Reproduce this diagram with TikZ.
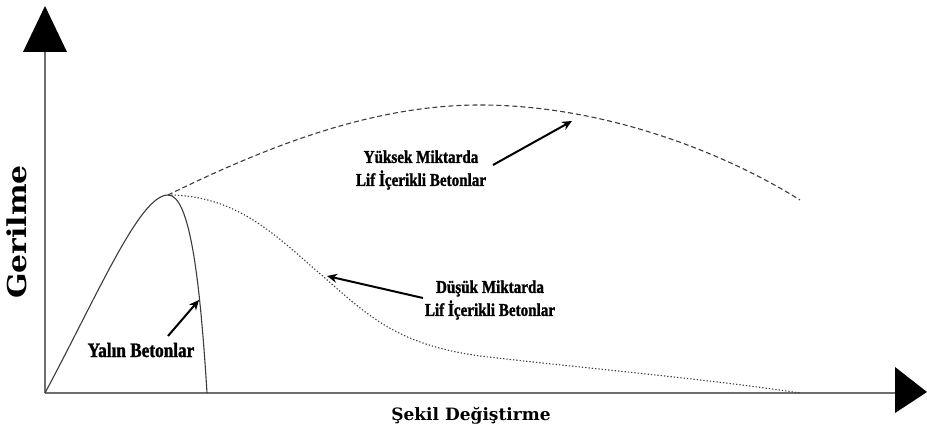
\documentclass[tikz,border=0pt]{standalone}
\usepackage{fontspec}
\setmainfont{Liberation Serif}
\newfontfamily\lblfont[FakeStretch=0.84,FakeBold=1.4]{Liberation Serif}
\newfontfamily\axfont{DejaVu Serif}
\newfontfamily\axwidefont[FakeStretch=1.15]{DejaVu Serif}
\usetikzlibrary{arrows.meta}
\definecolor{curvecol}{HTML}{3C3C3C}
\definecolor{axiscol}{HTML}{6E6E6E}
\begin{document}
\begin{tikzpicture}[x=1pt,y=-1pt,
  axisline/.style={draw=axiscol,line width=1.1pt},
  headtri/.style={fill=black,draw=none},
  plainc/.style={draw=curvecol,line width=1.1pt},
  highc/.style={draw=curvecol,line width=1.1pt,dash pattern=on 5pt off 3pt},
  lowc/.style={draw=curvecol,line width=1.1pt,dash pattern=on 1.3pt off 2pt},
  pointer/.style={draw=black,line width=2pt,-{Stealth[length=10pt,width=9pt]}},
  lbl/.style={font=\lblfont\bfseries\fontsize{18}{23}\selectfont,align=center,inner sep=0pt},
  biglbl/.style={font=\lblfont\bfseries\fontsize{20.5}{24}\selectfont,inner sep=0pt},
  axlbl/.style={font=\axfont\bfseries\fontsize{17}{20}\selectfont,inner sep=0pt},
  yaxlbl/.style={font=\axwidefont\bfseries\fontsize{26}{30}\selectfont,inner sep=0pt}]
\useasboundingbox (0,0) rectangle (927,435);
% axes
\coordinate (O) at (45,393);
\coordinate (Ybase) at (45,52);
\coordinate (Xbase) at (895,393);
\draw[axisline] (O) -- (Ybase);
\draw[axisline] (O) -- (Xbase);
\path[headtri] (23,52) -- (45,6) -- (67,52) -- cycle;
\path[headtri] (895,367) -- (927,392) -- (895,413) -- cycle;
% curves
\coordinate (P) at (168,195);
\draw[plainc] (O) .. controls (100,290) and (140,195) .. (P)
  .. controls (190,195) and (200,280) .. (207,393);
\draw[highc] (P) .. controls (280,140) and (380,105) .. (480,105)
  .. controls (600,105) and (720,150) .. (800,200);
\draw[lowc] (P) .. controls (240,195) and (280,240) .. (325,278)
  .. controls (370,318) and (400,345) .. (480,356)
  .. controls (600,370) and (700,378) .. (800,393);
% labels
\node[lbl] (high) at (421,170) {Yüksek Miktarda\\Lif İçerikli Betonlar};
\node[lbl] (low) at (490,300) {Düşük Miktarda\\Lif İçerikli Betonlar};
\node[biglbl] (plain) at (141,350) {Yalın Betonlar};
\node[yaxlbl,rotate=90] (ylab) at (17,232) {Gerilme};
\node[axlbl] (xlab) at (471,416) {Şekil Değiştirme};
% pointers
\coordinate (hs) at (493,165);
\coordinate (he) at (572,121);
\coordinate (ls) at (423,298);
\coordinate (le) at (327,276);
\coordinate (ps) at (168,336);
\coordinate (pe) at (199,300);
\draw[pointer] (hs) -- (he);
\draw[pointer] (ls) -- (le);
\draw[pointer] (ps) -- (pe);
\end{tikzpicture}
\end{document}
